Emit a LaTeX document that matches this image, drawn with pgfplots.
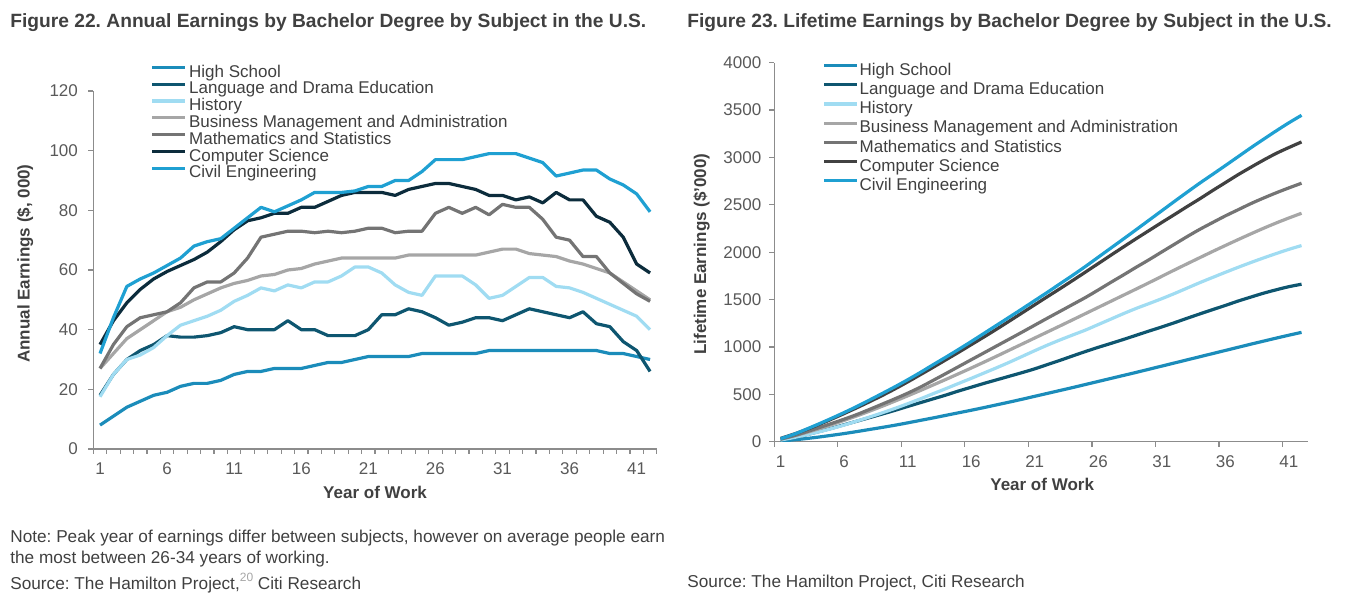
\documentclass[border=0pt]{standalone}
\usepackage{fontspec}
\setmainfont{Liberation Sans}
\usepackage{pgfplots}
\usepackage{pgfplotstable}
\pgfplotsset{compat=1.18}
\frenchspacing

\definecolor{cHS}{HTML}{1B8CBA}
\definecolor{cLang}{HTML}{0E5670}
\definecolor{cHist}{HTML}{A0DCF2}
\definecolor{cBus}{HTML}{A6A6A6}
\definecolor{cMath}{HTML}{747474}
\definecolor{cCSnavy}{HTML}{0C2C3C}
\definecolor{cCSgrey}{HTML}{414141}
\definecolor{cCiv}{HTML}{1FA0D2}
\definecolor{cAxis}{HTML}{8C8C8C}
\definecolor{cTick}{HTML}{595959}
\definecolor{cText}{HTML}{404040}

\tikzset{lbl/.style={font=\bfseries\fontsize{8.5}{10}\selectfont, text=cText}}

% Annual earnings ($ thousand) by year of work
\pgfplotstableread{
year hs lang hist bus math cs civ
1 8 18 17.5 27 27 35 32
2 11 25 25 32 35 43 44
3 14 30 30 37 41 49 54.5
4 16 33 31.5 40 44 53.5 57
5 18 35 34 43 45 57 59
6 19 38 38 46 46 59.5 61.5
7 21 37.5 41.5 47.5 49 61.5 64
8 22 37.5 43 50 54 63.5 68
9 22 38 44.5 52 56 66 69.5
10 23 39 46.5 54 56 69.5 70.5
11 25 41 49.5 55.5 59 73.5 74
12 26 40 51.5 56.5 64 76.5 77.5
13 26 40 54 58 71 77.5 81
14 27 40 53 58.5 72 79 79.5
15 27 43 55 60 73 79 81.5
16 27 40 54 60.5 73 81 83.5
17 28 40 56 62 72.5 81 86
18 29 38 56 63 73 83 86
19 29 38 58 64 72.5 85 86
20 30 38 61 64 73 86 86.5
21 31 40 61 64 74 86 88
22 31 45 59 64 74 86 88
23 31 45 55 64 72.5 85 90
24 31 47 52.5 65 73 87 90
25 32 46 51.5 65 73 88 93
26 32 44 58 65 79 89 97
27 32 41.5 58 65 81 89 97
28 32 42.5 58 65 79 88 97
29 32 44 55 65 81 87 98
30 33 44 50.5 66 78.5 85 99
31 33 43 51.5 67 82 85 99
32 33 45 54.5 67 81 83.5 99
33 33 47 57.5 65.5 81 84.5 97.5
34 33 46 57.5 65 77 82.5 96
35 33 45 54.5 64.5 71 86 91.5
36 33 44 54 63 70 83.5 92.5
37 33 46 52.5 62 64.5 83.5 93.5
38 33 42 50.5 60.5 64.5 78 93.5
39 32 41 48.5 59 59 76 90.5
40 32 36 46.5 56 55.5 71 88.5
41 31 33 44.5 53 52 62 85.5
42 30 26 40 50 49.5 59 79.5
}\annual

% Lifetime (cumulative) earnings ($ thousand) by year of work
\pgfplotstableread{
year hs lang hist bus math cs civ
1 8 18 17.5 27 27 35 32
2 19 43 42.5 59 62 78 76
3 33 73 72.5 96 103 127 130.5
4 49 106 104 136 147 180.5 187.5
5 67 141 138 179 192 237.5 246.5
6 86 179 176 225 238 297 308
7 107 216.5 217.5 272.5 287 358.5 372
8 129 254 260.5 322.5 341 422 440
9 151 292 305 374.5 397 488 509.5
10 174 331 351.5 428.5 453 557.5 580
11 199 372 401 484 512 631 654
12 225 412 452.5 540.5 576 707.5 731.5
13 251 452 506.5 598.5 647 785 812.5
14 278 492 559.5 657 719 864 892
15 305 535 614.5 717 792 943 973.5
16 332 575 668.5 777.5 865 1024 1057
17 360 615 724.5 839.5 937.5 1105 1143
18 389 653 780.5 902.5 1010.5 1188 1229
19 418 691 838.5 966.5 1083 1273 1315
20 448 729 899.5 1030.5 1156 1359 1401.5
21 479 769 960.5 1094.5 1230 1445 1489.5
22 510 814 1019.5 1158.5 1304 1531 1577.5
23 541 859 1074.5 1222.5 1376.5 1616 1667.5
24 572 906 1127 1287.5 1449.5 1703 1757.5
25 604 952 1178.5 1352.5 1522.5 1791 1850.5
26 636 996 1236.5 1417.5 1601.5 1880 1947.5
27 668 1037.5 1294.5 1482.5 1682.5 1969 2044.5
28 700 1080 1352.5 1547.5 1761.5 2057 2141.5
29 732 1124 1407.5 1612.5 1842.5 2144 2239.5
30 765 1168 1458 1678.5 1921 2229 2338.5
31 798 1211 1509.5 1745.5 2003 2314 2437.5
32 831 1256 1564 1812.5 2084 2397.5 2536.5
33 864 1303 1621.5 1878 2165 2482 2634
34 897 1349 1679 1943 2242 2564.5 2730
35 930 1394 1733.5 2007.5 2313 2650.5 2821.5
36 963 1438 1787.5 2070.5 2383 2734 2914
37 996 1484 1840 2132.5 2447.5 2817.5 3007.5
38 1029 1526 1890.5 2193 2512 2895.5 3101
39 1061 1567 1939 2252 2571 2971.5 3191.5
40 1093 1603 1985.5 2308 2626.5 3042.5 3280
41 1124 1636 2030 2361 2678.5 3104.5 3365.5
42 1154 1662 2070 2411 2728 3163.5 3445
}\lifetime

\pgfplotsset{
  earn/.style={
    scale only axis,
    axis x line*=bottom,
    axis y line*=left,
    axis line style={cAxis, line width=0.6pt},
    tick style={cAxis, line width=0.6pt},
    tick align=outside,
    major tick length=2.5pt,
    xmin=0.5, xmax=42.5,
    xticklabels={},
    extra x ticks={1,6,...,41},
    extra x tick labels={1,6,11,16,21,26,31,36,41},
    extra x tick style={major tick length=0pt},
    ticklabel style={font=\fontsize{8.5}{10}\selectfont, text=cTick},
    /pgf/number format/assume math mode=true,
    /pgf/number format/1000 sep={},
    legend cell align=left,
    every axis plot/.append style={line width=1.6pt, line join=round},
  },
}

\begin{document}
\begin{tikzpicture}
\useasboundingbox (0,0) rectangle (675.5pt,-301.5pt);

% Titles
\node[anchor=base west, text=cText, font=\bfseries\fontsize{9.6}{11}\selectfont, inner sep=0pt]
  at (5pt,-14pt) {Figure 22. Annual Earnings by Bachelor Degree by Subject in the U.S.};
\node[anchor=base west, text=cText, font=\bfseries\fontsize{9.6}{11}\selectfont, inner sep=0pt]
  at (343.5pt,-14pt) {Figure 23. Lifetime Earnings by Bachelor Degree by Subject in the U.S.};

% Annual earnings
\begin{axis}[earn,
  at={(46.65pt,-224.5pt)}, anchor=south west,
  width=281.75pt, height=179pt,
  ymin=0, ymax=120, ytick={0,20,...,120},
  xtick={0.5,1.5,...,42.5},
  yticklabel style={anchor=east, inner sep=0pt, xshift=-5pt},
  xticklabel style={anchor=center, inner sep=0pt, yshift=-9.65pt},
  every axis y label/.style={lbl, at={(axis description cs:-0.1212,0.518)}, rotate=90, anchor=center},
  every axis x label/.style={lbl, at={(axis description cs:0.5,-0.12)}, anchor=center},
  ylabel={Annual Earnings (\$, 000)},
  xlabel={Year of Work},
  legend style={at={(0.1009,1.0746)}, anchor=north west, draw=none, fill=none,
    inner sep=0pt, font=\fontsize{8.5}{8.5}\selectfont, text=cText, row sep=0pt,
    nodes={inner sep=0pt, inner xsep=1.5pt, text height=6.2pt, text depth=2.2pt}},
  legend image code/.code={\draw[#1] (0pt,2.85pt) -- (16.2pt,2.85pt);},
]
\addplot[cHS]     table[x=year, y=hs]   {\annual};
\addplot[cLang]   table[x=year, y=lang] {\annual};
\addplot[cHist]   table[x=year, y=hist] {\annual};
\addplot[cBus]    table[x=year, y=bus]  {\annual};
\addplot[cMath]   table[x=year, y=math] {\annual};
\addplot[cCSnavy] table[x=year, y=cs]   {\annual};
\addplot[cCiv]    table[x=year, y=civ]  {\annual};
\legend{High School, Language and Drama Education, History,
  Business Management and Administration, Mathematics and Statistics,
  Computer Science, Civil Engineering}
\end{axis}

% Lifetime earnings
\begin{axis}[earn,
  at={(387.15pt,-220.85pt)}, anchor=south west,
  width=266.8pt, height=189.5pt,
  ymin=0, ymax=4000, ytick={0,500,...,4000},
  xtick={0.5,5.5,...,40.5},
  yticklabel style={anchor=east, inner sep=0pt, xshift=-3.8pt},
  xticklabel style={anchor=center, inner sep=0pt, yshift=-10pt},
  every axis y label/.style={lbl, at={(axis description cs:-0.136,0.495)}, rotate=90, anchor=center},
  every axis x label/.style={lbl, at={(axis description cs:0.502,-0.114)}, anchor=center},
  ylabel={Lifetime Earnings (\$'000)},
  xlabel={Year of Work},
  legend style={at={(0.0895,1.0003)}, anchor=north west, draw=none, fill=none,
    inner sep=0pt, font=\fontsize{8.5}{8.5}\selectfont, text=cText, row sep=1.2pt,
    nodes={inner sep=0pt, inner xsep=0.3pt, text height=6.2pt, text depth=2.2pt}},
  legend image code/.code={\draw[#1] (0pt,2.85pt) -- (16.7pt,2.85pt);},
]
\addplot[cHS, smooth]     table[x=year, y=hs]   {\lifetime};
\addplot[cLang, smooth]   table[x=year, y=lang] {\lifetime};
\addplot[cHist, smooth]   table[x=year, y=hist] {\lifetime};
\addplot[cBus, smooth]    table[x=year, y=bus]  {\lifetime};
\addplot[cMath, smooth]   table[x=year, y=math] {\lifetime};
\addplot[cCSgrey, smooth] table[x=year, y=cs]   {\lifetime};
\addplot[cCiv, smooth]    table[x=year, y=civ]  {\lifetime};
\legend{High School, Language and Drama Education, History,
  Business Management and Administration, Mathematics and Statistics,
  Computer Science, Civil Engineering}
\end{axis}

% Notes and sources
\begin{scope}[every node/.style={anchor=base west, inner sep=0pt, text=cText, font=\fontsize{8.6}{10}\selectfont}]
\node at (5pt,-271.5pt) {Note: Peak year of earnings differ between subjects, however on average people earn};
\node at (5pt,-282pt) {the most between 26-34 years of working.};
\node at (5pt,-295pt) {Source: The Hamilton Project,\raisebox{4.2pt}{\textcolor{cBus}{\fontsize{6}{6}\selectfont 20}} Citi Research};
\node at (343.5pt,-294pt) {Source: The Hamilton Project, Citi Research};
\end{scope}
\end{tikzpicture}
\end{document}
